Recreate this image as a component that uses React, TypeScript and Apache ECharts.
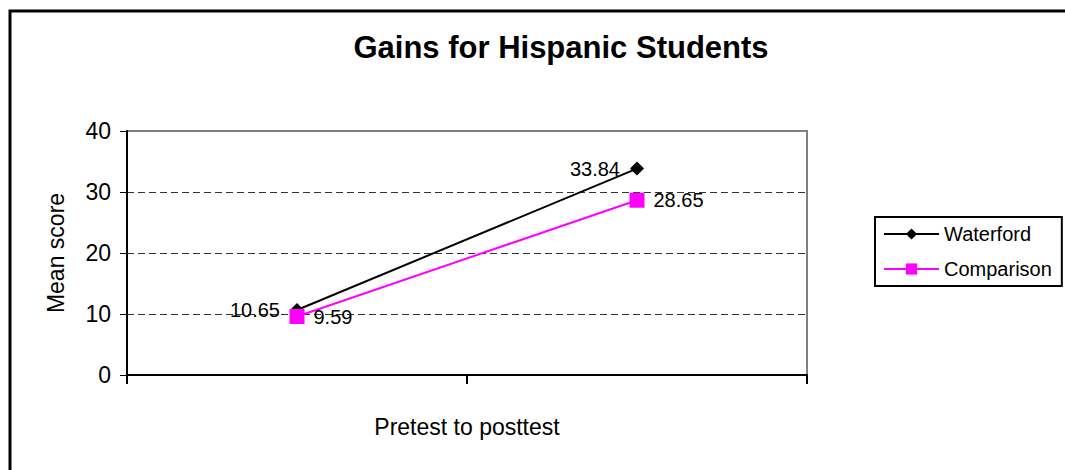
import React, { useEffect, useRef } from "react";
import * as echarts from "echarts";

// Chart data
const categories = ["Pretest", "Posttest"];
const waterford = [10.65, 33.84];
const comparison = [9.59, 28.65];
const yTicks = { min: 0, max: 40, interval: 10 };

const FONT = "'Liberation Sans', Arial, sans-serif";

export default function App() {
  const ref = useRef<HTMLDivElement>(null);

  useEffect(() => {
    if (!ref.current) return;
    const chart = echarts.init(ref.current, undefined, { renderer: "svg" });
    chart.setOption({
      animation: false,
      backgroundColor: "#ffffff",
      textStyle: { fontFamily: FONT, color: "#000" },
      title: {
        text: "Gains for Hispanic Students",
        left: 556,
        top: 27,
        textAlign: "center",
        textStyle: { fontFamily: FONT, fontSize: 31, fontWeight: "bold", color: "#000" },
      },
      graphic: [
        {
          type: "rect",
          shape: { x: 10, y: 11, width: 1200, height: 600 },
          style: { fill: "none", stroke: "#000", lineWidth: 3 },
          silent: true,
        },
      ],
      legend: {
        orient: "vertical",
        left: 875,
        top: 217,
        padding: [7, 10, 7, 8],
        itemWidth: 55,
        itemHeight: 14,
        itemGap: 15,
        borderColor: "#000",
        borderWidth: 2,
        textStyle: { fontFamily: FONT, fontSize: 20, color: "#000" },
        data: ["Waterford", "Comparison"],
      },
      grid: {
        left: 127,
        right: 258,
        top: 131,
        bottom: 95,
        show: true,
        borderColor: "#808080",
        borderWidth: 2,
        backgroundColor: "transparent",
      },
      xAxis: {
        type: "category",
        data: categories,
        boundaryGap: true,
        name: "Pretest to posttest",
        nameLocation: "middle",
        nameGap: 40,
        nameTextStyle: { fontFamily: FONT, fontSize: 23, color: "#000" },
        axisLine: { lineStyle: { color: "#000", width: 2 } },
        axisTick: { show: true, inside: false, length: 9, lineStyle: { color: "#000", width: 2 } },
        axisLabel: { show: false },
        splitLine: { show: false },
      },
      yAxis: {
        type: "value",
        min: yTicks.min,
        max: yTicks.max,
        interval: yTicks.interval,
        name: "Mean score",
        nameLocation: "middle",
        nameGap: 60,
        nameRotate: 90,
        nameTextStyle: { fontFamily: FONT, fontSize: 23, color: "#000" },
        axisLine: { show: true, lineStyle: { color: "#000", width: 2 } },
        axisTick: { show: true, inside: false, length: 7, lineStyle: { color: "#000", width: 1 } },
        axisLabel: { margin: 16, fontFamily: FONT, fontSize: 23, color: "#000" },
        splitLine: {
          show: true,
          showMinLine: false,
          showMaxLine: false,
          lineStyle: { color: "#333333", width: 1, type: [7, 4] },
        },
      },
      series: [
        {
          name: "Waterford",
          type: "line",
          data: waterford,
          symbol: "diamond",
          symbolSize: 14,
          lineStyle: { color: "#000", width: 2 },
          itemStyle: { color: "#000" },
          label: {
            show: true,
            position: "left",
            distance: 10,
            fontFamily: FONT,
            fontSize: 20,
            color: "#000",
          },
          z: 2,
        },
        {
          name: "Comparison",
          type: "line",
          data: comparison,
          symbol: "rect",
          symbolSize: 15,
          lineStyle: { color: "#ff00ff", width: 2 },
          itemStyle: { color: "#ff00ff" },
          label: {
            show: true,
            position: "right",
            distance: 9,
            fontFamily: FONT,
            fontSize: 20,
            color: "#000",
          },
          z: 3,
        },
      ],
    });
    return () => chart.dispose();
  }, []);

  return (
    <div
      ref={ref}
      style={{ position: "fixed", left: 0, top: 0, width: 1065, height: 470 }}
    />
  );
}
